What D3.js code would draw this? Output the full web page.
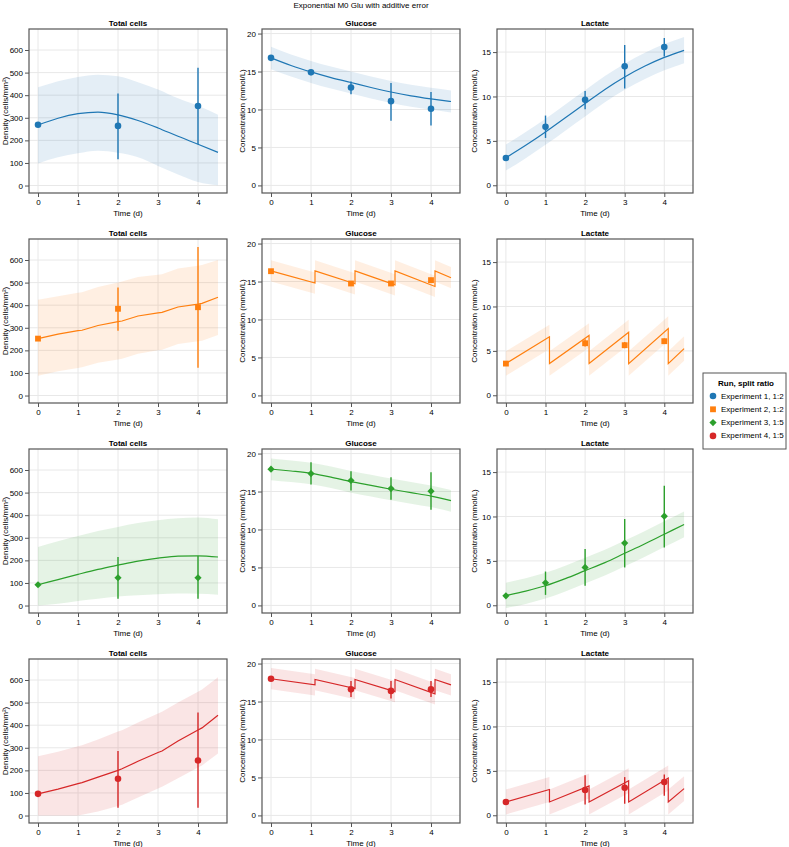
<!DOCTYPE html>
<html><head><meta charset="utf-8">
<script src="https://cdn.jsdelivr.net/npm/d3@7"></script>
<style>body{margin:0;background:#fff} text{font-family:"Liberation Sans",Arial,Helvetica,sans-serif;fill:#000}</style>
</head><body><svg id="c" width="789" height="847"></svg>
<script>
// ---------------- data ----------------
const chartTitle = "Exponential M0 Glu with additive error";
const panelTitles = ["Total cells", "Glucose", "Lactate"];
const yLabels = ["Density (cells/mm²)", "Concentration (mmol/L)", "Concentration (mmol/L)"];
const xLabel = "Time (d)";
const legendTitle = "Run, split ratio";
const seriesNames = ["Experiment 1, 1:2", "Experiment 2, 1:2", "Experiment 3, 1:5", "Experiment 4, 1:5"];
const seriesColors = ["#1f77b4", "#ff7f0e", "#2ca02c", "#d62728"];
const seriesMarkers = ["circle", "square", "diamond", "circle"];

const xTicks = [0, 1, 2, 3, 4];
const cellsTicks = [0, 100, 200, 300, 400, 500, 600];
const glucoseTicks = [0, 5, 10, 15, 20];
const lactateTicks = [0, 5, 10, 15];

const cellObsDays = [0, 2, 4];
const metabObsDaysDaily = [0, 1, 2, 3, 4];
const metabObsDaysSplit = [0, 2, 3, 4];
const smoothFitDays = [0, 0.5, 1, 1.5, 2, 2.5, 3, 3.5, 4, 4.5];
const splitCellFitDays = [0, 0.5, 1, 1.1, 1.5, 2, 2.1, 2.5, 3, 3.1, 3.5, 4, 4.1, 4.5];
const splitMetabFitDays = [0, 1.1, 1.1, 2.1, 2.1, 3.1, 3.1, 4.1, 4.1, 4.5];

// Experiment 1
const exp1CellsObs = [269, 264, 352];
const exp1CellsErrLo = [null, 116, 183];
const exp1CellsErrHi = [null, 407, 521];
const exp1CellsFit = [268, 298, 318, 325, 313, 288, 255, 218, 183, 147];
const exp1CellsBandLo = [98, 125, 143, 154, 145, 125, 87, 49, 16, 1];
const exp1CellsBandHi = [435, 462, 481, 491, 484, 457, 425, 386, 353, 313];
const exp1GluObs = [16.8, 14.9, 12.9, 11.1, 10.1];
const exp1GluErrLo = [null, 14.5, 12.0, 8.5, 7.9];
const exp1GluErrHi = [null, 15.2, 13.7, 13.5, 12.3];
const exp1GluFit = [16.8, 15.8, 14.95, 14.2, 13.55, 12.9, 12.3, 11.8, 11.4, 11.05];
const exp1GluBandLo = [15.3, 14.35, 13.5, 12.75, 12.1, 11.45, 10.85, 10.35, 9.95, 9.6];
const exp1GluBandHi = [18.25, 17.25, 16.4, 15.65, 15.0, 14.35, 13.75, 13.25, 12.85, 12.5];
const exp1LacObs = [3.08, 6.58, 9.62, 13.4, 15.56];
const exp1LacErrLo = [null, 5.33, 8.57, 10.9, 14.5];
const exp1LacErrHi = [null, 7.85, 10.63, 15.8, 16.6];
const exp1LacFit = [3.1, 4.5, 6.0, 7.6, 9.2, 10.8, 12.2, 13.4, 14.4, 15.2];
const exp1LacBandLo = [1.65, 3.05, 4.55, 6.15, 7.75, 9.35, 10.75, 11.95, 12.95, 13.75];
const exp1LacBandHi = [4.6, 6.0, 7.5, 9.1, 10.7, 12.3, 13.7, 14.9, 15.9, 16.7];

// Experiment 2
const exp2CellsObs = [252, 384, 391];
const exp2CellsErrLo = [null, 287, 123];
const exp2CellsErrHi = [null, 478, 658];
const exp2CellsFit = [252, 272, 287, 289, 310, 327, 330, 352, 366, 368, 392, 405, 408, 435];
const exp2CellsBandLo = [88, 108, 122, 125, 145, 160, 163, 185, 200, 203, 228, 240, 243, 268];
const exp2CellsBandHi = [424, 440, 455, 457, 480, 500, 505, 525, 535, 537, 562, 575, 578, 600];
const exp2GluObs = [16.36, 14.74, 14.74, 15.18];
const exp2GluErrLo = [null, 14.5, 14.5, 14.9];
const exp2GluErrHi = [null, 15.0, 15.0, 15.5];
const exp2GluFit = [16.4, 14.8, 16.4, 14.7, 16.4, 14.55, 16.4, 14.35, 16.4, 15.5];
const exp2GluBandLo = [15.0, 13.4, 15.0, 13.3, 15.0, 13.15, 15.0, 12.95, 15.0, 14.1];
const exp2GluBandHi = [17.8, 16.2, 17.8, 16.1, 17.8, 15.95, 17.8, 15.75, 17.8, 16.9];
const exp2LacObs = [3.57, 5.86, 5.64, 6.09];
const exp2LacErrLo = [null, 5.5, 5.3, 5.8];
const exp2LacErrHi = [null, 6.3, 6.0, 6.4];
const exp2LacFit = [3.57, 6.58, 3.57, 6.73, 3.57, 7.1, 3.57, 7.52, 3.57, 5.26];
const exp2LacBandLo = [2.2, 5.2, 2.2, 5.35, 2.2, 5.7, 2.2, 6.1, 2.2, 3.9];
const exp2LacBandHi = [4.95, 7.95, 4.95, 8.1, 4.95, 8.5, 4.95, 8.9, 4.95, 6.65];

// Experiment 3
const exp3CellsObs = [92, 123, 123];
const exp3CellsErrLo = [null, 30, 30];
const exp3CellsErrHi = [null, 215, 219];
const exp3CellsFit = [92, 115, 138, 160, 179, 197, 210, 219, 220, 215];
const exp3CellsBandLo = [0, 8, 20, 30, 40, 46, 50, 53, 52, 48];
const exp3CellsBandHi = [259, 285, 308, 330, 348, 365, 378, 386, 390, 382];
const exp3GluObs = [17.94, 17.37, 16.45, 15.39, 15.04];
const exp3GluErrLo = [17.7, 15.92, 15.13, 13.9, 12.59];
const exp3GluErrHi = [18.2, 18.86, 17.68, 16.89, 17.54];
const exp3GluFit = [17.95, 17.7, 17.4, 16.9, 16.3, 15.8, 15.3, 14.85, 14.4, 13.8];
const exp3GluBandLo = [16.5, 16.25, 15.95, 15.45, 14.85, 14.35, 13.85, 13.4, 12.95, 12.35];
const exp3GluBandHi = [19.35, 19.1, 18.8, 18.3, 17.7, 17.2, 16.7, 16.25, 15.8, 15.2];
const exp3LacObs = [1.06, 2.53, 4.26, 7.01, 10.03];
const exp3LacErrLo = [null, 1.17, 2.19, 4.26, 6.52];
const exp3LacErrHi = [null, 3.8, 6.33, 9.72, 13.46];
const exp3LacFit = [1.1, 1.6, 2.2, 3.0, 3.9, 4.8, 5.85, 6.9, 8.0, 9.1];
const exp3LacBandLo = [-0.3, 0.15, 0.75, 1.55, 2.45, 3.35, 4.4, 5.45, 6.55, 7.65];
const exp3LacBandHi = [2.55, 3.05, 3.65, 4.45, 5.35, 6.25, 7.3, 8.35, 9.45, 10.55];

// Experiment 4
const exp4CellsObs = [96, 163, 244];
const exp4CellsErrLo = [null, 34, 34];
const exp4CellsErrHi = [null, 286, 456];
const exp4CellsFit = [96, 117, 141, 146, 170, 200, 207, 240, 279, 286, 330, 379, 388, 444];
const exp4CellsBandLo = [0, 0, 0, 3, 18, 42, 48, 80, 120, 127, 165, 213, 222, 275];
const exp4CellsBandHi = [262, 282, 307, 311, 337, 372, 378, 412, 452, 460, 500, 548, 558, 612];
const exp4GluObs = [18.0, 16.6, 16.4, 16.6];
const exp4GluErrLo = [null, 15.6, 15.4, 15.6];
const exp4GluErrHi = [null, 17.7, 17.7, 17.7];
const exp4GluFit = [18.0, 17.2, 17.9, 16.7, 17.9, 16.3, 17.9, 16.0, 17.9, 17.2];
const exp4GluBandLo = [16.6, 15.8, 16.5, 15.3, 16.5, 14.9, 16.5, 14.6, 16.5, 15.8];
const exp4GluBandHi = [19.4, 18.6, 19.3, 18.1, 19.3, 17.7, 19.3, 17.4, 19.3, 18.6];
const exp4LacObs = [1.5, 2.85, 3.1, 3.75];
const exp4LacErrLo = [null, 1.2, 1.3, 2.2];
const exp4LacErrHi = [null, 4.5, 4.3, 4.6];
const exp4LacFit = [1.5, 2.9, 1.5, 3.3, 1.5, 3.9, 1.5, 4.2, 1.5, 3.0];
const exp4LacBandLo = [0.1, 1.5, 0.1, 1.9, 0.1, 2.5, 0.1, 2.8, 0.1, 1.6];
const exp4LacBandHi = [2.9, 4.3, 2.9, 4.7, 2.9, 5.3, 2.9, 5.6, 2.9, 4.4];

// ---------------- assemble ----------------
const rows = [
  [
    {obsT: cellObsDays, obs: exp1CellsObs, lo: exp1CellsErrLo, hi: exp1CellsErrHi, fitT: smoothFitDays, fit: exp1CellsFit, bLo: exp1CellsBandLo, bHi: exp1CellsBandHi},
    {obsT: metabObsDaysDaily, obs: exp1GluObs, lo: exp1GluErrLo, hi: exp1GluErrHi, fitT: smoothFitDays, fit: exp1GluFit, bLo: exp1GluBandLo, bHi: exp1GluBandHi},
    {obsT: metabObsDaysDaily, obs: exp1LacObs, lo: exp1LacErrLo, hi: exp1LacErrHi, fitT: smoothFitDays, fit: exp1LacFit, bLo: exp1LacBandLo, bHi: exp1LacBandHi}
  ],
  [
    {obsT: cellObsDays, obs: exp2CellsObs, lo: exp2CellsErrLo, hi: exp2CellsErrHi, fitT: splitCellFitDays, fit: exp2CellsFit, bLo: exp2CellsBandLo, bHi: exp2CellsBandHi},
    {obsT: metabObsDaysSplit, obs: exp2GluObs, lo: exp2GluErrLo, hi: exp2GluErrHi, fitT: splitMetabFitDays, fit: exp2GluFit, bLo: exp2GluBandLo, bHi: exp2GluBandHi},
    {obsT: metabObsDaysSplit, obs: exp2LacObs, lo: exp2LacErrLo, hi: exp2LacErrHi, fitT: splitMetabFitDays, fit: exp2LacFit, bLo: exp2LacBandLo, bHi: exp2LacBandHi}
  ],
  [
    {obsT: cellObsDays, obs: exp3CellsObs, lo: exp3CellsErrLo, hi: exp3CellsErrHi, fitT: smoothFitDays, fit: exp3CellsFit, bLo: exp3CellsBandLo, bHi: exp3CellsBandHi},
    {obsT: metabObsDaysDaily, obs: exp3GluObs, lo: exp3GluErrLo, hi: exp3GluErrHi, fitT: smoothFitDays, fit: exp3GluFit, bLo: exp3GluBandLo, bHi: exp3GluBandHi},
    {obsT: metabObsDaysDaily, obs: exp3LacObs, lo: exp3LacErrLo, hi: exp3LacErrHi, fitT: smoothFitDays, fit: exp3LacFit, bLo: exp3LacBandLo, bHi: exp3LacBandHi}
  ],
  [
    {obsT: cellObsDays, obs: exp4CellsObs, lo: exp4CellsErrLo, hi: exp4CellsErrHi, fitT: splitCellFitDays, fit: exp4CellsFit, bLo: exp4CellsBandLo, bHi: exp4CellsBandHi},
    {obsT: metabObsDaysSplit, obs: exp4GluObs, lo: exp4GluErrLo, hi: exp4GluErrHi, fitT: splitMetabFitDays, fit: exp4GluFit, bLo: exp4GluBandLo, bHi: exp4GluBandHi},
    {obsT: metabObsDaysSplit, obs: exp4LacObs, lo: exp4LacErrLo, hi: exp4LacErrHi, fitT: splitMetabFitDays, fit: exp4LacFit, bLo: exp4LacBandLo, bHi: exp4LacBandHi}
  ]
];

// ---------------- layout ----------------
const colLeft = [29, 262, 497];
const colWidth = [198, 198, 196];
const rowTop = [29, 239, 449, 659];
const panelH = 164;
const yLabelX = [5, 242, 474];
const yDomains = [[-33, 693], [-1, 20.6], [-0.87, 17.6]];
const yTickSets = [cellsTicks, glucoseTicks, lactateTicks];
const xDomain = [-0.225, 4.725];

const svg = d3.select("#c");
svg.append("rect").attr("width", 789).attr("height", 847).attr("fill", "#fff");

svg.append("text").attr("x", 361).attr("y", 5).attr("text-anchor", "middle")
  .attr("dominant-baseline", "central").attr("font-size", 8).text(chartTitle);

function markerPath(kind) {
  if (kind === "square") return d3.symbol(d3.symbolSquare, 34)();
  if (kind === "diamond") return d3.symbol(d3.symbolSquare, 26)();
  return d3.symbol(d3.symbolCircle, 34)();
}
function markerTransform(kind, x, y) {
  return kind === "diamond" ? `translate(${x},${y}) rotate(45)` : `translate(${x},${y})`;
}

rows.forEach((row, r) => {
  const color = seriesColors[r];
  const mk = seriesMarkers[r];
  row.forEach((p, c) => {
    const x0 = colLeft[c], w = colWidth[c], y0 = rowTop[r];
    const x = d3.scaleLinear().domain(xDomain).range([x0, x0 + w]);
    const y = d3.scaleLinear().domain(yDomains[c]).range([y0 + panelH, y0]);
    const g = svg.append("g");
    const clipId = `clip${r}${c}`;
    g.append("clipPath").attr("id", clipId).append("rect")
      .attr("x", x0).attr("y", y0).attr("width", w).attr("height", panelH);

    // grid
    g.selectAll(null).data(xTicks).join("line")
      .attr("x1", d => x(d)).attr("x2", d => x(d)).attr("y1", y0).attr("y2", y0 + panelH)
      .attr("stroke", "#e8e8e8").attr("stroke-width", 1);
    g.selectAll(null).data(yTickSets[c]).join("line")
      .attr("y1", d => y(d)).attr("y2", d => y(d)).attr("x1", x0).attr("x2", x0 + w)
      .attr("stroke", "#e8e8e8").attr("stroke-width", 1);

    const plot = g.append("g").attr("clip-path", `url(#${clipId})`);
    const smooth = p.fitT === smoothFitDays;
    const curve = smooth ? d3.curveMonotoneX : d3.curveLinear;
    // band segments (split at repeated days)
    const pts = p.fitT.map((t, i) => ({t, v: p.fit[i], lo: p.bLo[i], hi: p.bHi[i]}));
    const segs = [];
    let cur = [];
    pts.forEach((d, i) => {
      if (i > 0 && d.t === pts[i - 1].t) { segs.push(cur); cur = []; }
      cur.push(d);
    });
    segs.push(cur);
    const area = d3.area().curve(curve).x(d => x(d.t)).y0(d => y(d.lo)).y1(d => y(d.hi));
    segs.forEach(s => {
      plot.append("path").attr("d", area(s)).attr("fill", color).attr("fill-opacity", 0.12);
    });
    const line = d3.line().curve(curve).x(d => x(d.t)).y(d => y(d.v));
    plot.append("path").attr("d", line(pts)).attr("fill", "none")
      .attr("stroke", color).attr("stroke-width", 1.2);

    // error bars
    p.obsT.forEach((t, i) => {
      if (p.lo[i] == null) return;
      plot.append("line").attr("x1", x(t)).attr("x2", x(t))
        .attr("y1", y(p.lo[i])).attr("y2", y(p.hi[i]))
        .attr("stroke", color).attr("stroke-width", 1.4);
    });
    // points
    p.obsT.forEach((t, i) => {
      plot.append("path").attr("d", markerPath(mk))
        .attr("transform", markerTransform(mk, x(t), y(p.obs[i])))
        .attr("fill", color);
    });

    // frame
    g.append("rect").attr("x", x0).attr("y", y0).attr("width", w).attr("height", panelH)
      .attr("fill", "none").attr("stroke", "#555").attr("stroke-width", 1.2);

    // axes
    const xa = g.append("g").attr("transform", `translate(0,${y0 + panelH})`)
      .call(d3.axisBottom(x).tickValues(xTicks).tickSize(4).tickPadding(2).tickFormat(d3.format("d")));
    const ya = g.append("g").attr("transform", `translate(${x0},0)`)
      .call(d3.axisLeft(y).tickValues(yTickSets[c]).tickSize(4).tickPadding(2).tickFormat(d3.format("d")));
    [xa, ya].forEach(a => {
      a.select(".domain").remove();
      a.selectAll(".tick line").attr("stroke", "#555");
      a.selectAll(".tick text").attr("font-size", 8).attr("font-family", '"Liberation Sans",Arial,sans-serif').attr("fill", "#000");
    });

    // titles and labels
    g.append("text").attr("x", x0 + w / 2).attr("y", y0 - 6).attr("text-anchor", "middle")
      .attr("dominant-baseline", "central").attr("font-size", 8).attr("font-weight", "bold")
      .text(panelTitles[c]);
    g.append("text").attr("x", x0 + w / 2).attr("y", y0 + panelH + 20).attr("text-anchor", "middle")
      .attr("dominant-baseline", "central").attr("font-size", 8).text(xLabel);
    g.append("text").attr("transform", `translate(${yLabelX[c]},${y0 + panelH / 2}) rotate(-90)`)
      .attr("text-anchor", "middle").attr("dominant-baseline", "central").attr("font-size", 8)
      .text(yLabels[c]);
  });
});

// legend
const lg = svg.append("g");
lg.append("rect").attr("x", 703).attr("y", 373).attr("width", 83).attr("height", 76)
  .attr("fill", "#fff").attr("stroke", "#555").attr("stroke-width", 1);
lg.append("text").attr("x", 746).attr("y", 383).attr("text-anchor", "middle")
  .attr("dominant-baseline", "central").attr("font-size", 8).attr("font-weight", "bold").text(legendTitle);
seriesNames.forEach((n, i) => {
  const yy = 396 + i * 13.3;
  lg.append("path").attr("d", markerPath(seriesMarkers[i]))
    .attr("transform", markerTransform(seriesMarkers[i], 713, yy)).attr("fill", seriesColors[i]);
  lg.append("text").attr("x", 721).attr("y", yy).attr("dominant-baseline", "central")
    .attr("font-size", 8).text(n);
});
</script></body></html>
